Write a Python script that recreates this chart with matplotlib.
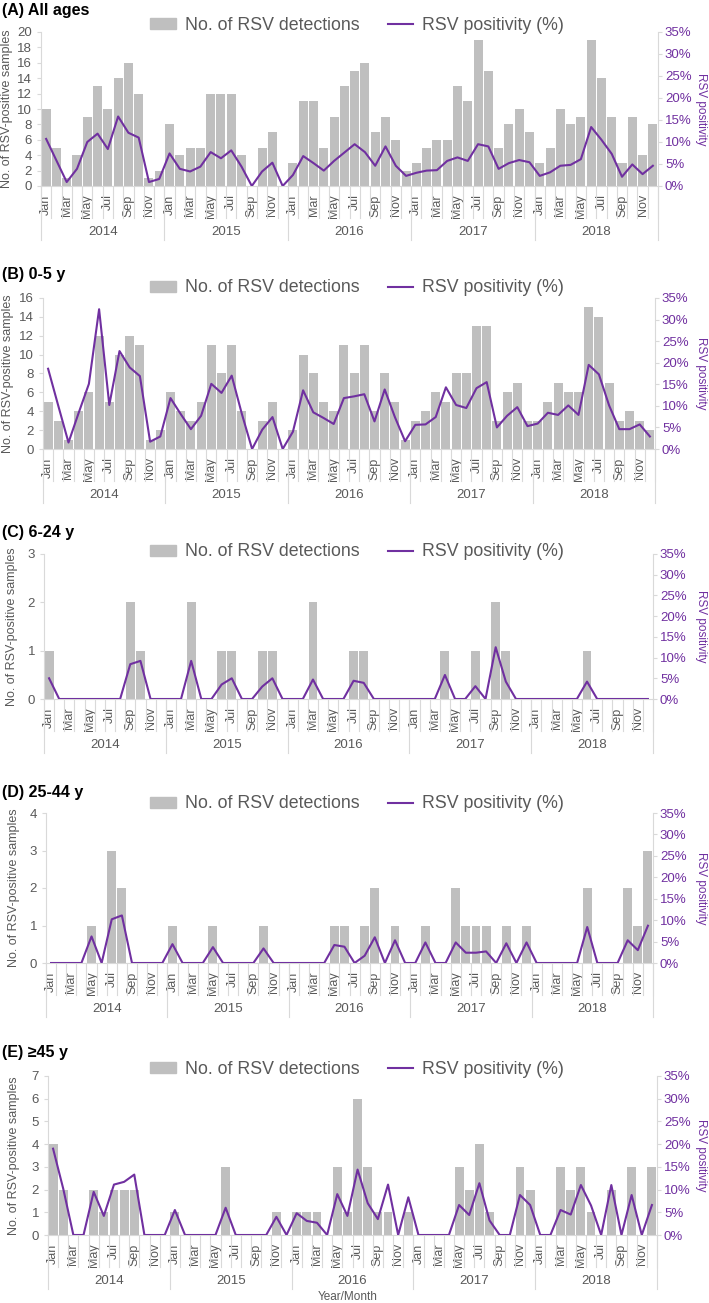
import matplotlib
matplotlib.use("Agg")
import matplotlib.pyplot as plt
from matplotlib.patches import Patch
from matplotlib.lines import Line2D
from matplotlib.ticker import MultipleLocator, FuncFormatter

plt.rcParams['font.family'] = ['Liberation Sans', 'DejaVu Sans']

GRAY_BAR = '#BFBFBF'
PURPLE = '#7030A0'
TXT = '#595959'
AXLINE = '#D9D9D9'

years = ['2014', '2015', '2016', '2017', '2018']
months = ['Jan', 'Feb', 'Mar', 'Apr', 'May', 'Jun',
          'Jul', 'Aug', 'Sep', 'Oct', 'Nov', 'Dec']

# monthly RSV detections, Jan 2014 - Dec 2018
det_all = [10, 5, 1, 4, 9, 13, 10, 14, 16, 12, 1, 2,
           8, 4, 5, 5, 12, 12, 12, 4, 0, 5, 7, 0,
           3, 11, 11, 5, 9, 13, 15, 16, 7, 9, 6, 2,
           3, 5, 6, 6, 13, 11, 19, 15, 5, 8, 10, 7,
           3, 5, 10, 8, 9, 19, 14, 9, 3, 9, 4, 8]
det_0_5 = [5, 3, 1, 4, 6, 12, 5, 10, 12, 11, 1, 2,
           6, 4, 3, 5, 11, 8, 11, 4, 0, 3, 5, 0,
           2, 10, 8, 5, 4, 11, 8, 11, 4, 8, 5, 1,
           3, 4, 6, 5, 8, 8, 13, 13, 3, 6, 7, 3,
           3, 5, 7, 6, 6, 15, 14, 7, 3, 4, 3, 2]
det_6_24 = [1, 0, 0, 0, 0, 0, 0, 0, 2, 1, 0, 0,
            0, 0, 2, 0, 0, 1, 1, 0, 0, 1, 1, 0,
            0, 0, 2, 0, 0, 0, 1, 1, 0, 0, 0, 0,
            0, 0, 0, 1, 0, 0, 1, 0, 2, 1, 0, 0,
            0, 0, 0, 0, 0, 1, 0, 0, 0, 0, 0, 0]
det_25_44 = [0, 0, 0, 0, 1, 0, 3, 2, 0, 0, 0, 0,
             1, 0, 0, 0, 1, 0, 0, 0, 0, 1, 0, 0,
             0, 0, 0, 0, 1, 1, 0, 1, 2, 0, 1, 0,
             0, 1, 0, 0, 2, 1, 1, 1, 0, 1, 0, 1,
             0, 0, 0, 0, 0, 2, 0, 0, 0, 2, 1, 3]
det_45 = [4, 2, 0, 0, 2, 1, 2, 2, 2, 0, 0, 0,
          1, 0, 0, 0, 0, 3, 0, 0, 0, 0, 1, 0,
          1, 1, 1, 0, 3, 1, 6, 3, 1, 1, 0, 1,
          0, 0, 0, 0, 3, 2, 4, 1, 0, 0, 3, 2,
          0, 0, 3, 2, 3, 1, 0, 2, 0, 3, 0, 3]

# RSV positivity (%)
pos_all = [10.7, 5.8, 0.9, 3.9, 10.0, 11.9, 8.4, 15.8, 12.1, 11.0, 0.9, 1.6,
           7.4, 3.9, 3.3, 4.4, 7.7, 6.3, 8.1, 4.4, 0.0, 3.3, 5.3, 0.0,
           2.5, 6.8, 5.2, 3.5, 5.7, 7.6, 9.5, 7.7, 4.6, 9.0, 4.6, 2.3,
           3.0, 3.5, 3.6, 5.7, 6.5, 5.7, 9.5, 9.0, 3.9, 5.2, 5.9, 5.4,
           2.3, 3.1, 4.6, 4.8, 6.1, 13.4, 10.5, 7.3, 2.1, 4.9, 2.7, 4.6]
pos_0_5 = [18.6, 10.0, 1.5, 8.4, 15.1, 32.4, 10.2, 22.7, 18.9, 16.9, 1.7, 2.9,
           11.8, 8.1, 4.6, 7.7, 15.1, 13.0, 17.0, 8.1, 0.0, 4.5, 7.4, 0.0,
           4.0, 13.6, 8.5, 7.2, 5.8, 11.8, 12.2, 12.7, 6.4, 13.8, 7.4, 1.8,
           5.6, 5.7, 7.4, 14.3, 10.2, 9.5, 14.1, 15.5, 5.0, 7.7, 9.7, 5.3,
           5.9, 8.4, 7.9, 10.1, 7.9, 19.5, 17.3, 10.1, 4.6, 4.6, 5.7, 2.9]
pos_6_24 = [5.0, 0, 0, 0, 0, 0, 0, 0, 8.4, 9.2, 0, 0,
            0, 0, 9.2, 0, 0, 3.5, 5.0, 0, 0, 3.0, 5.0, 0,
            0, 0, 4.7, 0, 0, 0, 4.4, 3.9, 0, 0, 0, 0,
            0, 0, 0, 5.8, 0, 0, 3.1, 0, 12.5, 4.2, 0, 0,
            0, 0, 0, 0, 0, 4.2, 0, 0, 0, 0, 0, 0]
pos_25_44 = [0, 0, 0, 0, 6.2, 0, 10.2, 11.1, 0, 0, 0, 0,
             4.4, 0, 0, 0, 3.7, 0, 0, 0, 0, 3.4, 0, 0,
             0, 0, 0, 0, 4.2, 3.8, 0, 1.7, 6.0, 0, 5.3, 0,
             0, 4.8, 0, 0, 4.8, 2.4, 2.4, 2.7, 0, 4.6, 0, 4.8,
             0, 0, 0, 0, 0, 8.4, 0, 0, 0, 5.3, 3.0, 8.7]
pos_45 = [19.0, 10.2, 0, 0, 9.5, 4.2, 11.1, 11.7, 13.3, 0, 0, 0,
          5.5, 0, 0, 0, 0, 6.0, 0, 0, 0, 0, 4.0, 0,
          4.8, 3.1, 2.7, 0, 9.0, 4.2, 14.4, 7.0, 3.5, 11.1, 0, 8.3,
          0, 0, 0, 0, 6.6, 4.4, 11.4, 3.2, 0, 0, 8.8, 6.6,
          0, 0, 5.5, 4.5, 11.0, 6.5, 0, 11.0, 0, 8.8, 0, 6.6]

W, H = 709, 1303
fig = plt.figure(figsize=(W / 100, H / 100), dpi=100)

# title, detections, positivity, ymax, step, (left, right, top, bottom) px,
# title y, legend y, left-label x
panels = [
    ('(A) All ages', det_all, pos_all, 20, 2, (41, 658, 32, 186), 10, 25, 7),
    ('(B) 0-5 y', det_0_5, pos_0_5, 16, 2, (43, 655, 298, 449), 275, 288, 8),
    ('(C) 6-24 y', det_6_24, pos_6_24, 3, 1, (44, 653, 554, 699), 533, 552, 12),
    ('(D) 25-44 y', det_25_44, pos_25_44, 4, 1, (46, 653, 813, 963), 792, 804, 14),
    ('(E) \u226545 y', det_45, pos_45, 7, 1, (48, 657, 1076, 1235), 1053, 1069, 14),
]

n = len(years) * len(months)
xs = list(range(n))

for title, det, pos, ymax, step, (l, r, t, b), ty, ly, labx in panels:
    ax = fig.add_axes([l / W, 1 - b / H, (r - l) / W, (b - t) / H])
    ax.bar(xs, det, width=0.88, color=GRAY_BAR, zorder=2)
    ax.set_xlim(-0.5, n - 0.5)
    ax.set_ylim(0, ymax)
    ax.yaxis.set_major_locator(MultipleLocator(step))
    for s in ['top', 'right']:
        ax.spines[s].set_visible(False)
    for s in ['left', 'bottom']:
        ax.spines[s].set_color(AXLINE)
    ax.tick_params(axis='y', colors=AXLINE, labelcolor=TXT, labelsize=9.5, length=3)
    ax.set_xticks(xs[::2])
    ax.set_xticklabels(months[::2] * len(years), rotation=90, fontsize=9, color=TXT)
    ax.tick_params(axis='x', length=0, pad=6)
    ax.set_ylabel('No. of RSV-positive samples', fontsize=9, color=TXT, va='center')
    ax.yaxis.set_label_coords((labx - l) / (r - l), 0.5)

    # multi-level category axis (month separators, year separators, year labels)
    hpx = b - t
    trans = ax.get_xaxis_transform()
    for i in range(n + 1):
        ax.plot([i - 0.5, i - 0.5], [0, -32 / hpx], transform=trans,
                color=AXLINE, lw=0.8, clip_on=False)
    for k in range(len(years) + 1):
        xk = k * 12 - 0.5
        ax.plot([xk, xk], [0, -54 / hpx], transform=trans,
                color=AXLINE, lw=0.8, clip_on=False)
    for k, yr in enumerate(years):
        ax.text(k * 12 + 5.5, -46 / hpx, yr, transform=trans, ha='center',
                va='center', fontsize=9.5, color=TXT)

    ax2 = ax.twinx()
    ax2.plot(xs, pos, color=PURPLE, lw=1.5)
    ax2.set_ylim(0, 35)
    ax2.yaxis.set_major_locator(MultipleLocator(5))
    ax2.yaxis.set_major_formatter(FuncFormatter(lambda v, p: f'{v:.0f}%'))
    for s in ['top', 'left', 'bottom']:
        ax2.spines[s].set_visible(False)
    ax2.spines['right'].set_color(AXLINE)
    ax2.tick_params(axis='y', colors=AXLINE, labelcolor=PURPLE, labelsize=9.5,
                    length=3, pad=2)
    ax2.set_ylabel('RSV positivity', fontsize=8.5, color=PURPLE, rotation=270, va='center')
    ax2.yaxis.set_label_coords((701 - l) / (r - l), 0.5)

    ax2.legend(handles=[Patch(color=GRAY_BAR), Line2D([], [], color=PURPLE, lw=1.5)],
               labels=['No. of RSV detections', 'RSV positivity (%)'],
               ncol=2, loc='center', bbox_to_anchor=(357 / W, 1 - ly / H),
               bbox_transform=fig.transFigure, frameon=False, fontsize=12.8,
               handlelength=1.45, handleheight=0.55, handletextpad=0.5,
               columnspacing=1.6, labelcolor=TXT, borderpad=0)

    fig.text(2 / W, 1 - ty / H, title, fontsize=11.5, fontweight='bold',
             ha='left', va='center', color='black')

fig.text(348 / W, 1 - 1297 / H, 'Year/Month', fontsize=8.5, color=TXT,
         ha='center', va='center')

fig.savefig('out.png', dpi=100)
